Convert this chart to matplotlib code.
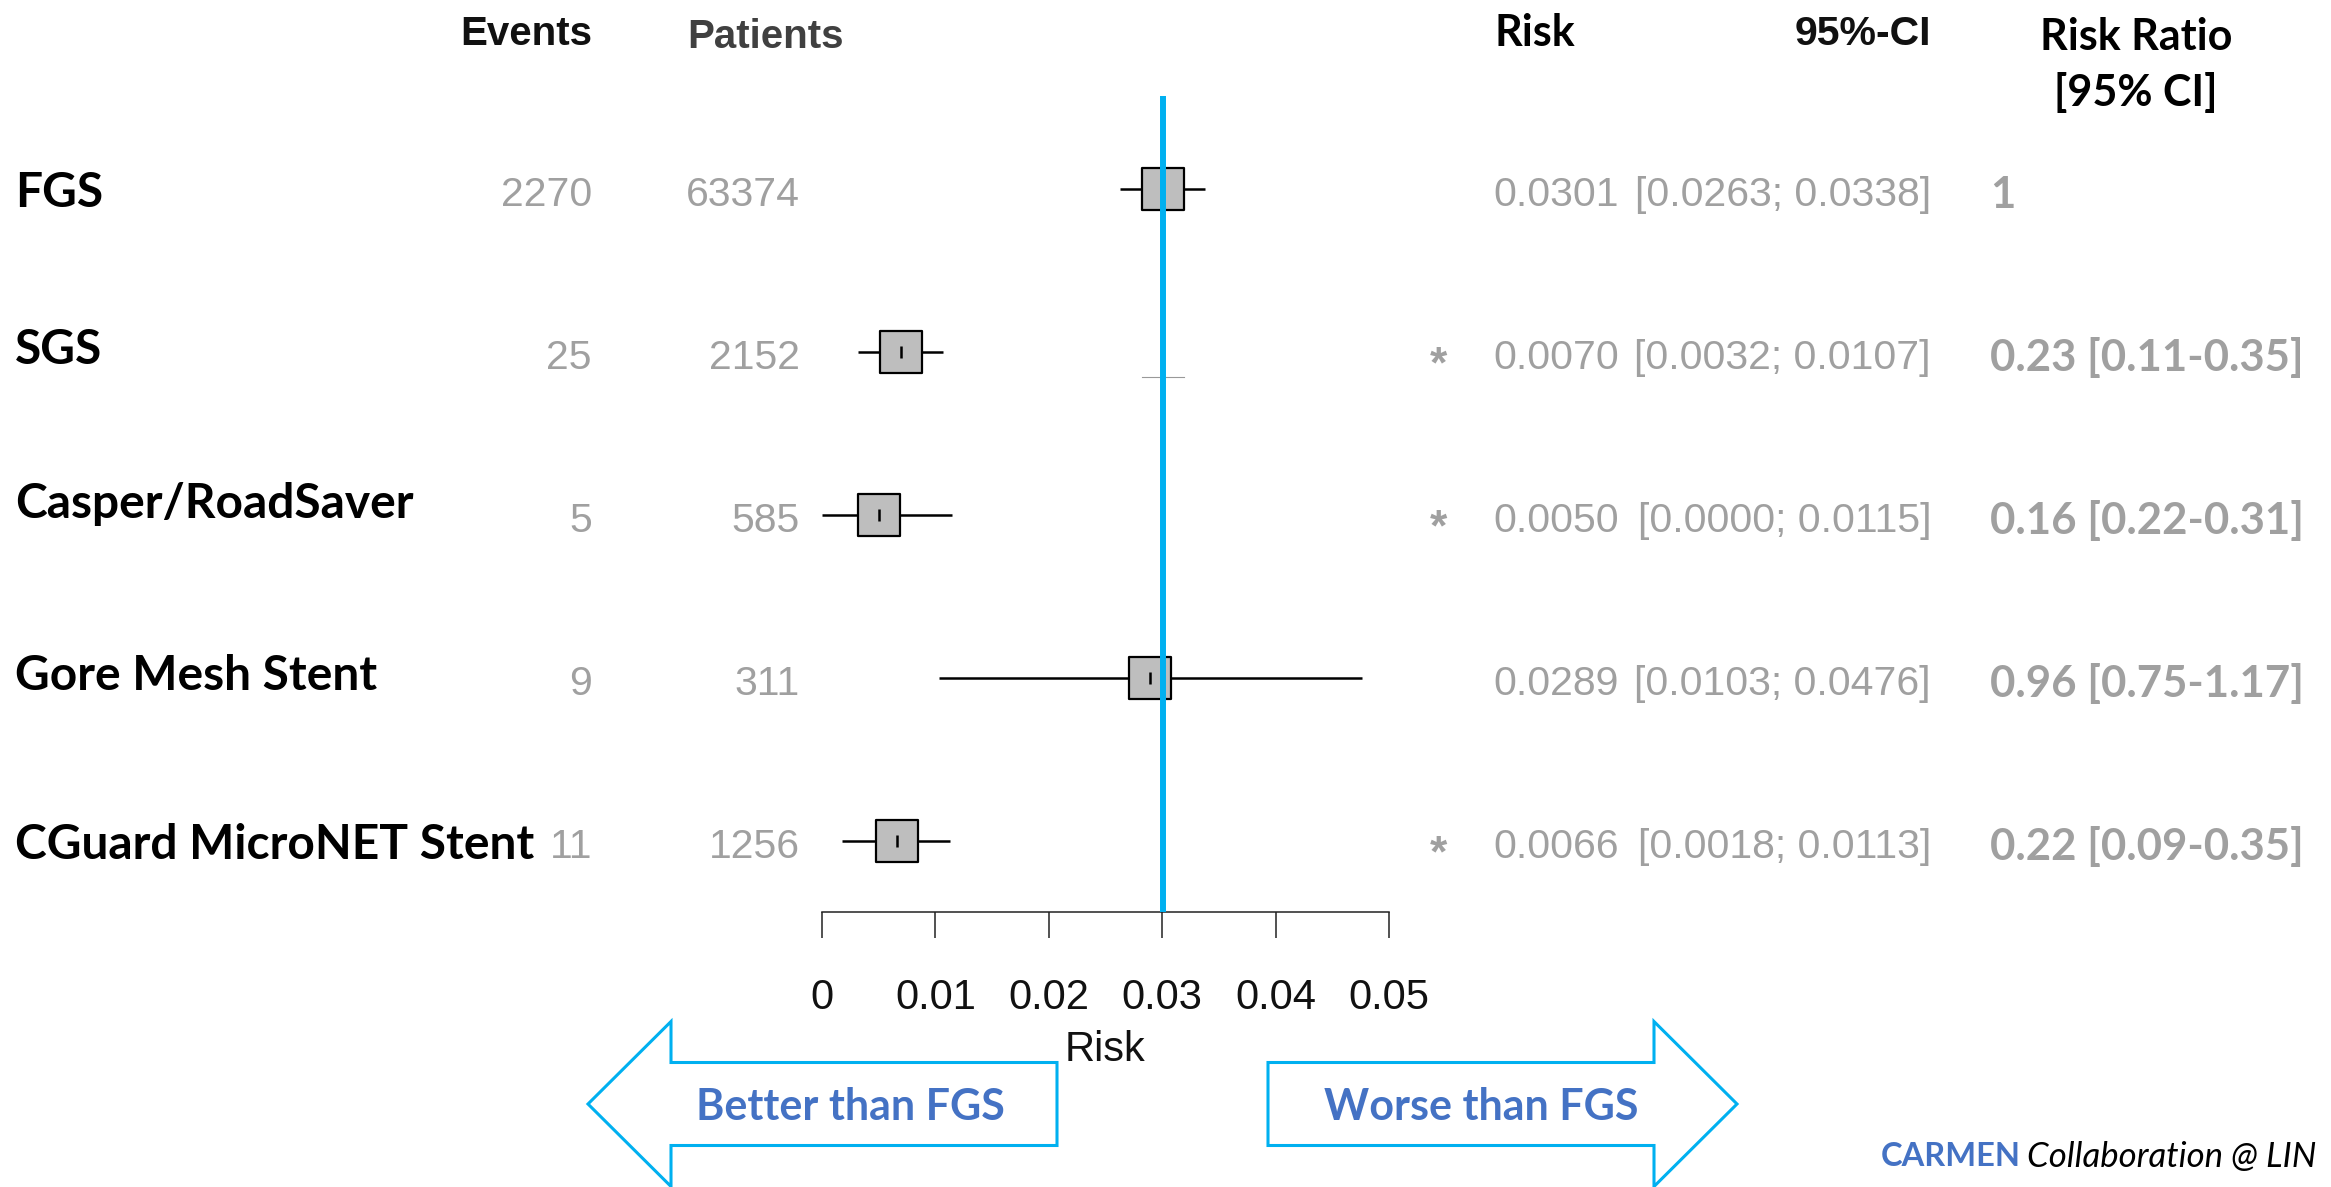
import matplotlib.pyplot as plt
import matplotlib.transforms as mtransforms
from matplotlib.patches import FancyArrow
import numpy as np

# data
groups = ['FGS', 'SGS', 'Casper/RoadSaver', 'Gore Mesh Stent', 'CGuard MicroNET Stent']
events = [2270, 25, 5, 9, 11]
patients = [63374, 2152, 585, 311, 1256]
risk = [0.0301, 0.0070, 0.0050, 0.0289, 0.0066]
ci_low = [0.0263, 0.0032, 0.0000, 0.0103, 0.0018]
ci_high = [0.0338, 0.0107, 0.0115, 0.0476, 0.0113]
rr_labels = ['1', '0.23 [0.11-0.35]', '0.16 [0.22-0.31]', '0.96 [0.75-1.17]', '0.22 [0.09-0.35]']
significant = [False, True, True, False, True]
xticks = [0, 0.01, 0.02, 0.03, 0.04, 0.05]
xtick_labels = ['0', '0.01', '0.02', '0.03', '0.04', '0.05']

arial = ['Liberation Sans', 'DejaVu Sans']
calibri = ['Lato', 'DejaVu Sans']
grey = '#a0a0a0'
cyan = '#00b0f0'
blue = '#4472c4'

W, H = 2331, 1187
fig = plt.figure(figsize=(W / 100, H / 100), dpi=100)
fig.patch.set_facecolor('white')
# pixel coords measured from the top-left corner
px = mtransforms.Affine2D().scale(1 / W, -1 / H).translate(0, 1) + fig.transFigure

ax = fig.add_axes([822 / W, 1 - 912 / H, 567 / W, 816 / H])
rows = np.arange(len(groups))
ax.set_xlim(0, 0.05)
ax.set_ylim(4.436, -0.571)

ax.hlines(rows, ci_low, ci_high, color='black', lw=1.8, zorder=2)
ax.scatter(risk, rows, marker='s', s=30 ** 2, facecolor='#bebebe',
           edgecolor='black', linewidth=1.6, zorder=3, clip_on=False)
ax.scatter(risk, rows, marker='|', s=9 ** 2, color='black', linewidth=1.8, zorder=4)
ax.plot([0.0282, 0.0319], [1.155, 1.155], color='#999999', lw=0.8, zorder=1)
ax.axvline(risk[0], color=cyan, lw=4.3, zorder=5)

ax.set_xticks(xticks, xtick_labels, fontfamily=arial, fontsize=30, color='#111111')
ax.tick_params(axis='x', length=19, width=1.1, pad=28.5, color='#222222')
ax.set_yticks([])
for s in ['left', 'top', 'right']:
    ax.spines[s].set_visible(False)
ax.spines['bottom'].set_linewidth(1.1)
ax.spines['bottom'].set_color('#222222')
ax.set_xlabel('Risk', fontsize=30, family=arial, color='#111111', labelpad=9)
ax.patch.set_alpha(0)

# column headers
fig.text(592, 30, 'Events', transform=px, ha='right', va='center_baseline',
         family=arial, fontsize=29, weight='bold', color='#111111')
fig.text(687, 33, 'Patients', transform=px, ha='left', va='center_baseline',
         family=arial, fontsize=29, weight='bold', color='#404040')
fig.text(1494, 30, 'Risk', transform=px, ha='left', va='center_baseline',
         family=calibri, fontsize=31, weight='bold', color='black')
fig.text(1931, 30, '95%-CI', transform=px, ha='right', va='center_baseline',
         family=arial, fontsize=29.5, weight='bold', color='#111111')
fig.text(2136, 33, 'Risk Ratio', transform=px, ha='center', va='center_baseline',
         family=calibri, fontsize=31, weight='bold', color='black')
fig.text(2136, 89, '[95% CI]', transform=px, ha='center', va='center_baseline',
         family=calibri, fontsize=31, weight='bold', color='black')

# row texts
row_tr = mtransforms.blended_transform_factory(px, ax.transData)
label_dy = [0, 6, 15, 6, 0]
for i, name in enumerate(groups):
    tr = mtransforms.offset_copy(row_tr, fig=fig, y=label_dy[i], units='dots')
    fig.text(15, rows[i], name, transform=tr, ha='left', va='center_baseline',
             family=calibri, fontsize=34.5, weight='bold', color='black')

num_tr = mtransforms.offset_copy(row_tr, fig=fig, y=-2, units='dots')
star_tr = mtransforms.offset_copy(row_tr, fig=fig, y=-14, units='dots')
for i in rows:
    fig.text(592, i, str(events[i]), transform=num_tr, ha='right', va='center_baseline',
             family=arial, fontsize=29.5, color=grey)
    fig.text(800, i, str(patients[i]), transform=num_tr, ha='right', va='center_baseline',
             family=arial, fontsize=29.5, color=grey)
    fig.text(1493, i, f'{risk[i]:.4f}', transform=num_tr, ha='left', va='center_baseline',
             family=arial, fontsize=29.5, color=grey)
    fig.text(1931, i, f'[{ci_low[i]:.4f}; {ci_high[i]:.4f}]', transform=num_tr,
             ha='right', va='center_baseline', family=arial, fontsize=29.5, color=grey)
    fig.text(1990, i, rr_labels[i], transform=num_tr, ha='left', va='center_baseline',
             family=calibri, fontsize=31.5, weight='bold', color=grey)
    if significant[i]:
        fig.text(1438, i, '*', transform=star_tr, ha='center', va='center',
                 family=arial, fontsize=32, weight='bold', color=grey)

# direction arrows
for x0, dx, label, cx in [(1057, -469, 'Better than FGS', 850),
                          (1268, 469, 'Worse than FGS', 1481)]:
    arrow = FancyArrow(x0, 1104, dx, 0, width=83, head_width=165, head_length=83,
                       length_includes_head=True, transform=px, facecolor='white',
                       edgecolor=cyan, lw=2.2)
    fig.add_artist(arrow)
    fig.text(cx, 1104, label, transform=px, ha='center', va='center_baseline',
             family=calibri, fontsize=31, weight='bold', color=blue)

fig.text(1881, 1154, 'CARMEN', transform=px, ha='left', va='center_baseline',
         family=calibri, fontsize=23.5, weight='bold', color=blue)
fig.text(2027, 1154, 'Collaboration @ LIN', transform=px, ha='left', va='center_baseline',
         family=calibri, fontsize=25, style='italic', color='black')

fig.savefig('out.png', dpi=100)
